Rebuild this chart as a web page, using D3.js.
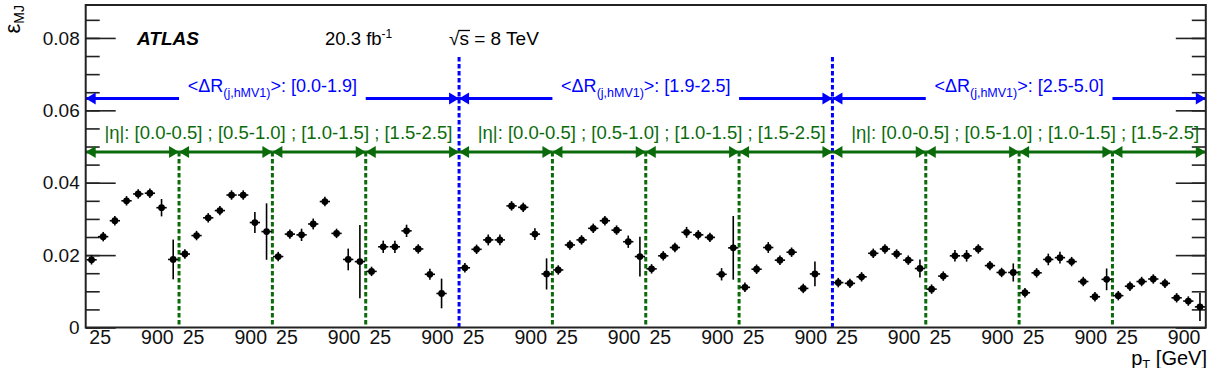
<!DOCTYPE html>
<html>
<head>
<meta charset="utf-8">
<script src="https://cdn.jsdelivr.net/npm/d3@7"></script>
<style>
body { margin: 0; background: #fff; }
svg { display: block; font-family: "Liberation Sans", Arial, sans-serif; }
</style>
</head>
<body>
<svg id="chart" width="1218" height="368"></svg>
<script>

var drBins = ["[0.0-1.9]", "[1.9-2.5]", "[2.5-5.0]"]

var etaBins = ["[0.0-0.5]", "[0.5-1.0]", "[1.0-1.5]", "[1.5-2.5]"]

var ptLabels = ["25", "900"]

var ptLabelPos = [1.2, 6.1]   // in bins, inside each eta block of 8 pT bins

var yTicks = [0, 0.02, 0.04, 0.06, 0.08]

// eps_MJ, 8 pT bins per eta block, 4 eta blocks per dR region (null = empty bin)
var effDR1 = [0.0187, 0.0251, 0.0295, 0.0350, 0.0369, 0.0371, 0.0331, 0.0188,
              0.0203, 0.0254, 0.0303, 0.0323, 0.0366, 0.0366, 0.0290, 0.0265,
              0.0196, 0.0258, 0.0256, 0.0286, 0.0348, 0.0260, 0.0188, 0.0182,
              0.0155, 0.0223, 0.0223, 0.0267, 0.0217, 0.0147, 0.0094, null]

var effDR2 = [0.0165, 0.0216, 0.0242, 0.0242, 0.0336, 0.0332, 0.0258, 0.0148,
              0.0159, 0.0228, 0.0242, 0.0274, 0.0295, 0.0269, 0.0237, 0.0196,
              0.0162, 0.0198, 0.0221, 0.0263, 0.0256, 0.0249, 0.0147, 0.0220,
              0.0111, 0.0161, 0.0221, 0.0186, 0.0208, 0.0108, 0.0148, null]

var effDR3 = [0.0124, 0.0122, 0.0140, 0.0205, 0.0217, 0.0203, 0.0186, 0.0163,
              0.0106, 0.0142, 0.0198, 0.0198, 0.0217, 0.0171, 0.0152, 0.0152,
              0.0096, 0.0151, 0.0188, 0.0193, 0.0182, 0.0127, 0.0085, 0.0133,
              0.0088, 0.0114, 0.0127, 0.0134, 0.0122, 0.0082, 0.0073, 0.0057]

var errDR1 = [0.0013, 0.0013, 0.0013, 0.0013, 0.0013, 0.0013, 0.0024, 0.0055,
              0.0013, 0.0013, 0.0013, 0.0013, 0.0013, 0.0013, 0.0029, 0.0078,
              0.0013, 0.0013, 0.0017, 0.0015, 0.0013, 0.0013, 0.0030, 0.0101,
              0.0013, 0.0017, 0.0017, 0.0017, 0.0013, 0.0015, 0.0041, null]

var errDR2 = [0.0013, 0.0013, 0.0015, 0.0015, 0.0013, 0.0013, 0.0016, 0.0043,
              0.0013, 0.0013, 0.0013, 0.0013, 0.0013, 0.0013, 0.0017, 0.0055,
              0.0013, 0.0013, 0.0013, 0.0015, 0.0013, 0.0013, 0.0017, 0.0088,
              0.0013, 0.0013, 0.0015, 0.0013, 0.0013, 0.0013, 0.0034, null]

var errDR3 = [0.0013, 0.0013, 0.0013, 0.0013, 0.0013, 0.0013, 0.0013, 0.0025,
              0.0013, 0.0013, 0.0016, 0.0016, 0.0013, 0.0013, 0.0013, 0.0025,
              0.0013, 0.0013, 0.0016, 0.0016, 0.0013, 0.0013, 0.0013, 0.0030,
              0.0013, 0.0013, 0.0013, 0.0013, 0.0013, 0.0013, 0.0013, 0.0039]

var eff = effDR1.concat(effDR2, effDR3)
var err = errDR1.concat(errDR2, errDR3)

var nPt = 8
var nBins = eff.length

var blue = "#0000ff"
var green = "#0b6b0b"

var svg = d3.select("#chart")

var x = d3.scaleLinear().domain([0, nBins]).range([85.7, 1205.8])
var y = d3.scaleLinear().domain([0, 0.0891]).range([327.5, 5])

var minorTicks = d3.range(0, 0.0891, 0.005)


// axes
var yMajor = svg.append("g")
        .attr("transform", "translate(" + x(0) + ",0)")
        .call(d3.axisLeft(y).tickValues(yTicks).tickSizeInner(-30).tickSizeOuter(0).tickPadding(6)
                .tickFormat(function(d) { return d == 0 ? "0" : d3.format(".2f")(d) }))

yMajor.selectAll("text").attr("font-size", "19px").attr("fill", "#111").attr("font-family", "Liberation Sans")

svg.append("g")
        .attr("transform", "translate(" + x(0) + ",0)")
        .call(d3.axisLeft(y).tickValues(minorTicks).tickSizeInner(-14).tickSizeOuter(0).tickFormat(""))

svg.append("g")
        .attr("transform", "translate(" + x(nBins) + ",0)")
        .call(d3.axisRight(y).tickValues(yTicks).tickSizeInner(-30).tickSizeOuter(0).tickFormat(""))

svg.append("g")
        .attr("transform", "translate(" + x(nBins) + ",0)")
        .call(d3.axisRight(y).tickValues(minorTicks).tickSizeInner(-14).tickSizeOuter(0).tickFormat(""))

var xTickVals = []
d3.range(nBins / nPt).forEach(function(g) {
    ptLabelPos.forEach(function(p) { xTickVals.push(g * nPt + p) })
})

var xAxis = svg.append("g")
        .attr("transform", "translate(0," + y(0) + ")")
        .call(d3.axisBottom(x).tickValues(xTickVals).tickSize(0).tickPadding(3)
                .tickFormat(function(d, i) { return ptLabels[i % ptLabels.length] }))

xAxis.selectAll("text").attr("font-size", "19.5px").attr("fill", "#111").attr("font-family", "Liberation Sans")

svg.selectAll(".domain").remove()
svg.selectAll(".tick line").attr("stroke", "#222").attr("stroke-width", 1.6)


// dashed separators
var seps = d3.range(1, nBins / nPt)

svg.append("g")
        .selectAll("line")
        .data(seps)
        .enter().append("line")
        .attr("x1", function(d) { return x(d * nPt) })
        .attr("x2", function(d) { return x(d * nPt) })
        .attr("y1", function(d) { return d % 4 == 0 ? 57 : 152 })
        .attr("y2", y(0))
        .attr("stroke", function(d) { return d % 4 == 0 ? blue : green })
        .attr("stroke-width", 3)
        .attr("stroke-dasharray", "4.5,2.5")


// arrows
function arrowHead(g, xt, yy, dir, col) {
    var L = 10, h = 6
    g.append("path")
        .attr("d", "M" + xt + "," + yy + "L" + (xt - dir * L) + "," + (yy - h) + "L" + (xt - dir * L) + "," + (yy + h) + "Z")
        .attr("fill", col)
}

var arrows = svg.append("g")
var yBlue = 98.5
var yGreen = 152

d3.range(drBins.length).forEach(function(r) {
    var a = r * 4 * nPt, b = (r + 1) * 4 * nPt
    arrows.append("line").attr("x1", x(a)).attr("x2", x(a + nPt)).attr("y1", yBlue).attr("y2", yBlue)
            .attr("stroke", blue).attr("stroke-width", 3)
    arrows.append("line").attr("x1", x(b - nPt)).attr("x2", x(b)).attr("y1", yBlue).attr("y2", yBlue)
            .attr("stroke", blue).attr("stroke-width", 3)
    arrowHead(arrows, x(a), yBlue, -1, blue)
    arrowHead(arrows, x(b), yBlue, 1, blue)

    var t = svg.append("text")
            .attr("x", x((a + b) / 2))
            .attr("y", 92)
            .attr("text-anchor", "middle")
            .attr("font-size", "18px")
            .attr("fill", blue)
    t.append("tspan").text("<ΔR")
    t.append("tspan").attr("font-size", "12.5px").attr("dy", 5).text("(j,hMV1)")
    t.append("tspan").attr("dy", -5).text(">: " + drBins[r])

    svg.append("text")
            .attr("x", x((a + b) / 2) + 6)
            .attr("y", 139)
            .attr("text-anchor", "middle")
            .attr("font-size", "18.5px")
            .attr("fill", green)
            .text("|η|: " + etaBins.join(" ; "))
})

d3.range(nBins / nPt).forEach(function(g) {
    var a = g * nPt, b = (g + 1) * nPt
    arrows.append("line").attr("x1", x(a)).attr("x2", x(b)).attr("y1", yGreen).attr("y2", yGreen)
            .attr("stroke", green).attr("stroke-width", 3)
    arrowHead(arrows, x(a), yGreen, -1, green)
    arrowHead(arrows, x(b), yGreen, 1, green)
})


// data points
var pts = eff.map(function(v, i) { return { i: i, v: v, e: err[i] } })
                .filter(function(d) { return d.v != null })

var marks = svg.append("g")

marks.selectAll(".ey")
        .data(pts)
        .enter().append("line")
        .attr("x1", function(d) { return x(d.i + 0.5) })
        .attr("x2", function(d) { return x(d.i + 0.5) })
        .attr("y1", function(d) { return y(d.v - d.e) })
        .attr("y2", function(d) { return y(d.v + d.e) })
        .attr("stroke", "#000")
        .attr("stroke-width", 1.6)

marks.selectAll(".ex")
        .data(pts)
        .enter().append("line")
        .attr("x1", function(d) { return x(d.i + 0.06) })
        .attr("x2", function(d) { return x(d.i + 0.94) })
        .attr("y1", function(d) { return y(d.v) })
        .attr("y2", function(d) { return y(d.v) })
        .attr("stroke", "#000")
        .attr("stroke-width", 1.6)

marks.selectAll("circle")
        .data(pts)
        .enter().append("circle")
        .attr("cx", function(d) { return x(d.i + 0.5) })
        .attr("cy", function(d) { return y(d.v) })
        .attr("r", 3.4)
        .attr("fill", "#000")


// frame
svg.append("rect")
        .attr("x", x(0))
        .attr("y", y.range()[1])
        .attr("width", x(nBins) - x(0))
        .attr("height", y(0) - y.range()[1])
        .attr("fill", "none")
        .attr("stroke", "#222")
        .attr("stroke-width", 2)


// labels
svg.append("text")
        .attr("x", 137)
        .attr("y", 44.5)
        .attr("font-size", "19px")
        .attr("font-weight", "bold")
        .attr("font-style", "italic")
        .text("ATLAS")

var lumi = svg.append("text")
        .attr("x", 325)
        .attr("y", 45)
        .attr("font-size", "18.5px")
lumi.append("tspan").text("20.3 fb")
lumi.append("tspan").attr("font-size", "12px").attr("dy", -7).text("-1")

var root = svg.append("text")
        .attr("x", 449)
        .attr("y", 45)
        .attr("font-size", "19px")
        .text("√")
var rw = root.node().getComputedTextLength()
var sText = svg.append("text")
        .attr("x", 449 + rw)
        .attr("y", 45)
        .attr("font-size", "19px")
        .text("s = 8 TeV")
var sw = sText.node().getSubStringLength(0, 1)
svg.append("line")
        .attr("x1", 449 + rw - 1)
        .attr("x2", 449 + rw + sw + 1)
        .attr("y1", 30.5)
        .attr("y2", 30.5)
        .attr("stroke", "#000")
        .attr("stroke-width", 1.3)

var yTitle = svg.append("text")
        .attr("transform", "translate(20,5) rotate(-90)")
        .attr("text-anchor", "end")
        .attr("font-size", "22px")
yTitle.append("tspan").text("ε")
yTitle.append("tspan").attr("font-size", "14px").attr("dy", 4).text("MJ")

var xTitle = svg.append("text")
        .attr("x", 1207)
        .attr("y", 365)
        .attr("text-anchor", "end")
        .attr("font-size", "20px")
xTitle.append("tspan").text("p")
xTitle.append("tspan").attr("font-size", "13px").attr("dy", 4).text("T")
xTitle.append("tspan").attr("dy", -4).text(" [GeV]")

</script>
</body>
</html>
